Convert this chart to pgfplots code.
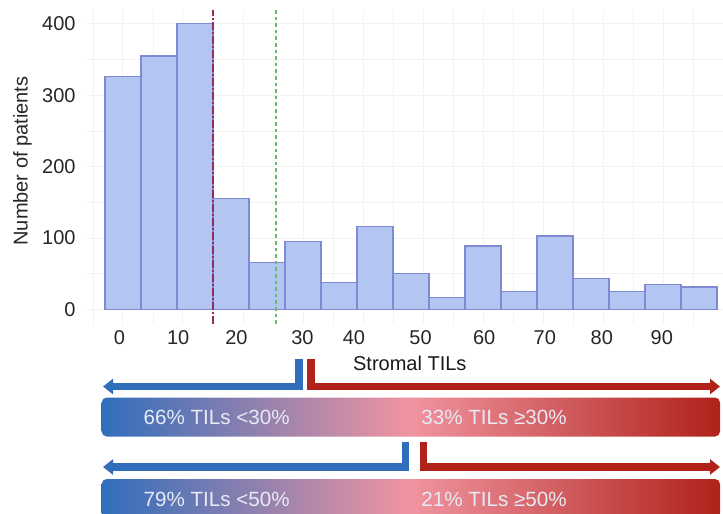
\documentclass[border=0pt]{standalone}
\usepackage{fontspec}
\setmainfont{Liberation Sans}
\usepackage{pgfplots}
\pgfplotsset{compat=1.18}
\usetikzlibrary{arrows.meta}
\definecolor{barfill}{RGB}{179,198,241}
\definecolor{baredge}{RGB}{128,138,210}
\definecolor{maroonl}{RGB}{148,42,98}
\definecolor{greenl}{RGB}{110,185,110}
\definecolor{tblue}{RGB}{48,110,188}
\definecolor{tpink}{RGB}{240,148,160}
\definecolor{tred}{RGB}{176,34,26}
\definecolor{gridc}{RGB}{242,242,242}
\definecolor{boxtext}{RGB}{232,234,245}
\begin{document}
\begin{tikzpicture}
\path[use as bounding box, clip] (0,0) rectangle (361.5pt,-257pt);
\begin{axis}[
  at={(43.5pt,-161.9pt)}, anchor=south west,
  scale only axis, width=318pt, height=157.1pt,
  xmin=-6, xmax=100, ymin=-20, ymax=420,
  axis line style={draw=none},
  major tick length=0pt, minor tick length=0pt,
  xtick={0,10,...,90}, xticklabels={},
  minor xtick={-5,5,...,95},
  ytick={0,100,...,400},
  minor ytick={50,150,...,350},
  grid=both,
  major grid style={gridc, line width=0.5pt},
  minor grid style={gridc, line width=0.4pt},
  extra x ticks={-0.6,9.2,18.9,29.9,38.5,49.6,60.2,70.3,79.8,89.8},
  extra x tick labels={0,10,20,30,40,50,60,70,80,90},
  extra x tick style={grid=none},
  /pgf/number format/assume math mode=true,
  yticklabel style={xshift=-2.2pt},
  tick label style={font=\fontsize{10}{12}\selectfont, text=black!85},
  clip=false,
]
\addplot[ybar, bar width=6, fill=barfill, draw=baredge, line width=0.6pt]
  coordinates {(0,326) (6,355) (12,400) (18,155) (24,66) (30,95.5) (36,37.5)
  (42,116) (48,50) (54,17) (60,89) (66,25) (72,103) (78,43) (84,25) (90,35) (96,31.5)};
\addplot[maroonl, line width=1.2pt, dash pattern=on 4pt off 1pt on 1pt off 1pt]
  coordinates {(15,-20) (15,420)};
\addplot[greenl, line width=0.7pt, dash pattern=on 1.8pt off 1.5pt]
  coordinates {(25.5,-20) (25.5,420)};
\end{axis}
\begin{scope}[x=0.5pt,y=-0.5pt]
\node[rotate=90, anchor=base, text=black!85] at (27.5,161) {Number of patients};
\node[anchor=base west, inner sep=0, text=black!90] at (352.7,370) {Stromal TILs};
% row 1
\draw[tblue, line width=3.8pt, -{Triangle[length=5pt,width=7.5pt]}] (299,359) -- (299,386.5) -- (103,386.5);
\draw[tred, line width=3.8pt, -{Triangle[length=5pt,width=7.5pt]}] (311,359) -- (311,386.5) -- (720,386.5);
\shade[left color=tblue, right color=tred, middle color=tpink, rounded corners=2.5pt] (101.7,397.5) rectangle (720,436.5);
\node[anchor=base west, inner sep=0, text=boxtext, font=\fontsize{10.3}{12}\selectfont] at (143.3,424.3) {66\% TILs <30\%};
\node[anchor=base west, inner sep=0, text=boxtext, font=\fontsize{10.3}{12}\selectfont] at (421,424.3) {33\% TILs ≥30\%};
% row 2
\draw[tblue, line width=3.8pt, -{Triangle[length=5pt,width=7.5pt]}] (405.5,442.3) -- (405.5,467) -- (103,467);
\draw[tred, line width=3.8pt, -{Triangle[length=5pt,width=7.5pt]}] (423.3,442.3) -- (423.3,467) -- (720,467);
\shade[left color=tblue, right color=tred, middle color=tpink, rounded corners=2.5pt] (101.7,479) rectangle (720,518.3);
\node[anchor=base west, inner sep=0, text=boxtext, font=\fontsize{10.3}{12}\selectfont] at (143.3,506.3) {79\% TILs <50\%};
\node[anchor=base west, inner sep=0, text=boxtext, font=\fontsize{10.3}{12}\selectfont] at (421,506.3) {21\% TILs ≥50\%};
\end{scope}
\end{tikzpicture}
\end{document}
